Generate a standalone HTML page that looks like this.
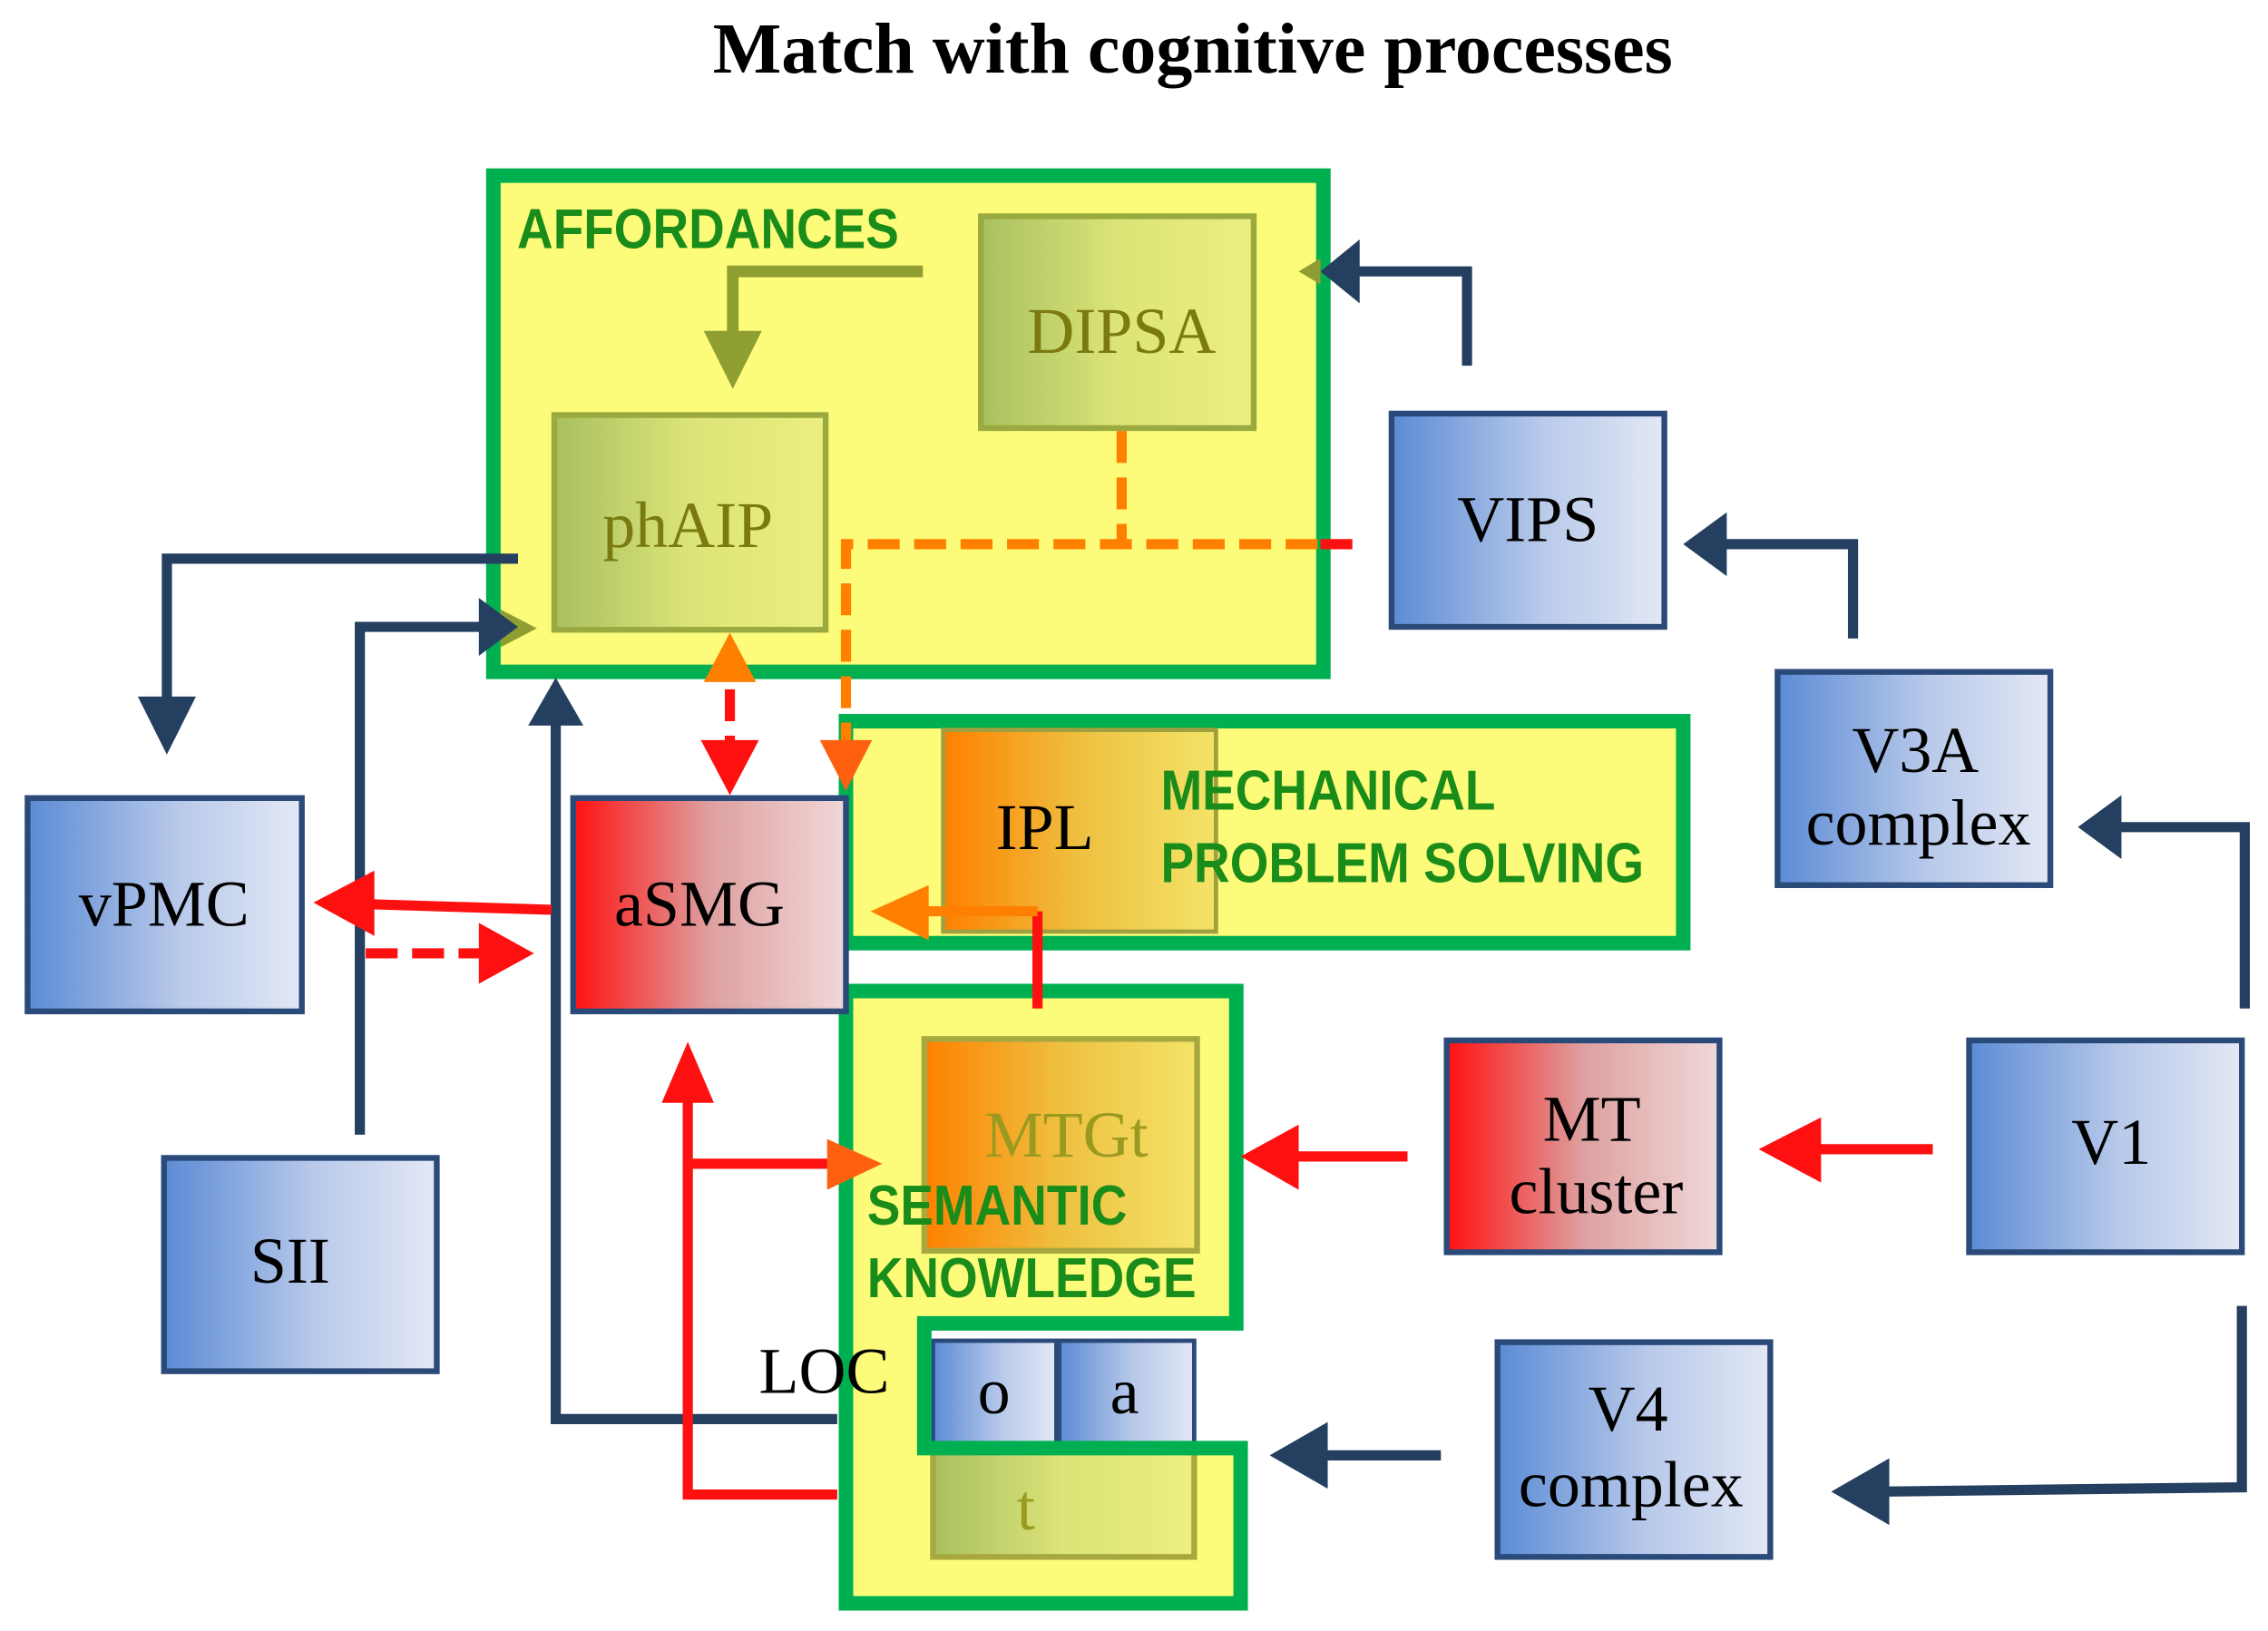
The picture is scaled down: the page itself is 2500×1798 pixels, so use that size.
<!DOCTYPE html>
<html><head><meta charset="utf-8"><style>html,body{margin:0;padding:0;background:#fff}svg{display:block}</style></head>
<body>
<svg width="2500" height="1798" viewBox="0 0 1563 1124" xmlns="http://www.w3.org/2000/svg">
<defs>
<linearGradient id="bl" x1="0" x2="1" y1="0" y2="0"><stop offset="0" stop-color="#5b8bd5"/><stop offset="0.55" stop-color="#b8c9ea"/><stop offset="1" stop-color="#e3e8f5"/></linearGradient>
<linearGradient id="rd" x1="0" x2="1"><stop offset="0" stop-color="#ff1010"/><stop offset="0.5" stop-color="#dea0a0"/><stop offset="1" stop-color="#f0d8d8"/></linearGradient>
<linearGradient id="ol" x1="0" x2="1"><stop offset="0" stop-color="#a9c060"/><stop offset="0.5" stop-color="#dbe478"/><stop offset="1" stop-color="#ecee80"/></linearGradient>
<linearGradient id="or" x1="0" x2="1"><stop offset="0" stop-color="#ff8000"/><stop offset="0.5" stop-color="#eec040"/><stop offset="1" stop-color="#f3e468"/></linearGradient>
</defs>
<text x="822" y="50" font-family="'Liberation Serif', serif" font-size="50" font-weight="bold" text-anchor="middle">Match with cognitive processes</text>
<!-- yellow group boxes -->
<rect x="340" y="121" width="572" height="342" fill="#fdfc7a" stroke="#00b050" stroke-width="10"/>
<rect x="583" y="497" width="577" height="153" fill="#fdfc7a" stroke="#00b050" stroke-width="10"/>
<path d="M583 683 H852 V912 H637 V998 H855 V1105 H583 Z" fill="#fdfc7a"/>
<!-- inner boxes -->
<rect x="676" y="149" width="188" height="146" fill="url(#ol)" stroke="#9aaa40" stroke-width="4"/>
<rect x="382" y="286" width="187" height="148" fill="url(#ol)" stroke="#9aaa40" stroke-width="4"/>
<rect x="650" y="503" width="188" height="139" fill="url(#or)" stroke="#a0a040" stroke-width="3"/>
<rect x="637" y="716" width="188" height="146" fill="url(#or)" stroke="#a8a840" stroke-width="4"/>
<rect x="643" y="924" width="85" height="71" fill="url(#bl)" stroke="#2a4a7a" stroke-width="3"/>
<rect x="730" y="924" width="93" height="71" fill="url(#bl)" stroke="#2a4a7a" stroke-width="3"/>
<rect x="643" y="1000" width="180" height="73" fill="url(#ol)" stroke="#a8a840" stroke-width="4"/>
<path d="M583 683 H852 V912 H637 V998 H855 V1105 H583 Z" fill="none" stroke="#00b050" stroke-width="10"/>
<!-- blue boxes -->
<g stroke="#2a4a7a" stroke-width="4">
<rect x="959" y="285" width="188" height="147" fill="url(#bl)"/>
<rect x="1225" y="463" width="188" height="147" fill="url(#bl)"/>
<rect x="19" y="550" width="189" height="147" fill="url(#bl)"/>
<rect x="395" y="550" width="188" height="147" fill="url(#rd)"/>
<rect x="997" y="717" width="188" height="146" fill="url(#rd)"/>
<rect x="1357" y="717" width="188" height="146" fill="url(#bl)"/>
<rect x="113" y="798" width="188" height="147" fill="url(#bl)"/>
<rect x="1032" y="925" width="188" height="148" fill="url(#bl)"/>
</g>
<!-- olive arrow -->
<path d="M636 187 H505 V232" fill="none" stroke="#8f9e30" stroke-width="8"/>
<polygon points="485,228 525,228 505,268" fill="#8f9e30"/>
<polygon points="345,420 370,433 345,446" fill="#8f9e30"/>
<polygon points="895,187 910,178 910,196" fill="#8f9e30"/>
<!-- navy arrows -->
<g fill="none" stroke="#243f60" stroke-width="7">
<path d="M1011 252 V187 H930"/>
<path d="M1277 440 V375 H1185"/>
<path d="M1547 695 V570 H1455"/>
<path d="M357 385 H115 V485"/>
<path d="M248 782 V432 H335"/>
<path d="M577 978 H383 V495"/>
<path d="M1545 900 V1025 L1295 1028"/>
<path d="M993 1003 H910"/>
</g>
<g fill="#243f60">
<polygon points="910,187 937,165 937,209"/>
<polygon points="1160,375 1190,353 1190,397"/>
<polygon points="1432,570 1462,548 1462,592"/>
<polygon points="95,480 135,480 115,520"/>
<polygon points="330,412 330,452 357,432"/>
<polygon points="364,500 402,500 383,467"/>
<polygon points="1262,1028 1302,1005 1302,1051"/>
<polygon points="875,1003 915,980 915,1026"/>
</g>
<!-- orange dashed -->
<g fill="none" stroke-width="7" stroke-dasharray="22,10">
<path d="M773 297 V375" stroke="#ff8000"/>
<path d="M583 520 V375 H910" stroke="#ff8000"/>
<path d="M910 375 H940" stroke="#ff1010"/>
<path d="M503 475 V512" stroke="#ff1010"/>
<path d="M252 657 H332" stroke="#ff1010"/>
</g>
<polygon points="565,510 601,510 583,545" fill="#ff6010"/>
<polygon points="485,470 521,470 503,436" fill="#ff8000"/>
<polygon points="483,510 523,510 503,548" fill="#ff1010"/>
<polygon points="330,636 330,678 368,657" fill="#ff1010"/>
<!-- red arrows -->
<g fill="none" stroke="#ff1010" stroke-width="7">
<path d="M380 627 L250 623"/>
<path d="M715 695 V628"/>
<path d="M577 1030 H474 V755"/>
<path d="M474 802 H575"/>
<path d="M1332 792 H1250"/>
<path d="M970 797 H890"/>
</g>
<path d="M715 628 H635" fill="none" stroke="#ff8000" stroke-width="7"/>
<polygon points="216,622 258,600 258,645" fill="#ff1010"/>
<polygon points="600,628 640,610 640,648" fill="#ff8000"/>
<polygon points="456,760 492,760 474,718" fill="#ff1010"/>
<polygon points="570,785 570,820 608,802" fill="#ff6010"/>
<polygon points="1212,792 1255,770 1255,815" fill="#ff1010"/>
<polygon points="855,797 895,775 895,820" fill="#ff1010"/>
<!-- labels -->
<g font-family="'Liberation Sans', sans-serif" font-weight="bold" fill="#1a8c1a" font-size="39" transform="scale(0.88,1)">
<text x="405" y="171">AFFORDANCES</text>
<text x="909" y="558">MECHANICAL</text>
<text x="909" y="608">PROBLEM SOLVING</text>
<text x="679" y="844">SEMANTIC</text>
<text x="679" y="894">KNOWLEDGE</text>
</g>
<g font-family="'Liberation Serif', serif" font-size="45" text-anchor="middle">
<text x="773" y="243" fill="#7a7a10">DIPSA</text>
<text x="474" y="377" fill="#7a7a10">phAIP</text>
<text x="1053" y="373">VIPS</text>
<text x="1320" y="532">V3A</text>
<text x="1322" y="582">complex</text>
<text x="113" y="638">vPMC</text>
<text x="482" y="638">aSMG</text>
<text x="720" y="585">IPL</text>
<text x="735" y="797" fill="#9a9a20">MTGt</text>
<text x="1097" y="786">MT</text>
<text x="1100" y="836">cluster</text>
<text x="1455" y="802">V1</text>
<text x="200" y="884">SII</text>
<text x="1122" y="986">V4</text>
<text x="1124" y="1038">complex</text>
<text x="685" y="974">o</text>
<text x="775" y="974">a</text>
<text x="707" y="1054" fill="#9a9a20">t</text>
<text x="568" y="960">LOC</text>
</g>
</svg>
</body></html>
